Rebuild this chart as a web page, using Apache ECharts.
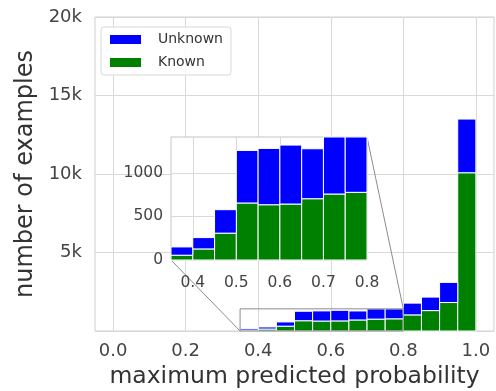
<!DOCTYPE html>
<html><head><meta charset="utf-8">
<script src="https://cdn.jsdelivr.net/npm/echarts@6/dist/echarts.min.js"></script>
<style>html,body{margin:0;padding:0;background:#fff}#c{width:496px;height:391px}</style>
</head><body><div id="c"></div>
<script>
// ---- data ----
const binStarts = [0.35, 0.40, 0.45, 0.50, 0.55, 0.60, 0.65, 0.70, 0.75, 0.80, 0.85, 0.90, 0.95];
const binWidth = 0.05;
const known   = [55, 127, 308, 654, 634, 642, 703, 757, 776, 1026, 1300, 1814, 10080];
const unknown = [95, 130, 269, 603, 646, 676, 573, 654, 635, 750, 860, 1282, 3420];
const mainXTicks = [0.0, 0.2, 0.4, 0.6, 0.8, 1.0];
const mainYMax = 20000;
const mainYStep = 5000;
const insetRange = [0.35, 0.8];
const insetXTicks = [0.4, 0.5, 0.6, 0.7, 0.8];
const insetYTicks = [0, 500, 1000];

// ---- derived ----
const xPad = 0.05;
const knownRows = binStarts.map((s, i) => [s, s + binWidth, 0, known[i]]);
const unknownRows = binStarts.map((s, i) => [s, s + binWidth, known[i], known[i] + unknown[i]]);
const inRange = r => r[0] >= insetRange[0] - 1e-9 && r[1] <= insetRange[1] + 1e-9;
const insetYMax = Math.max(...unknownRows.filter(inRange).map(r => r[3]));

const FONT = 'DejaVu Sans';
const TICK = '#444';
const GRIDC = '#d9d9d9';

function rectItem(params, api) {
  const p0 = api.coord([api.value(0), api.value(2)]);
  const p1 = api.coord([api.value(1), api.value(3)]);
  const cs = params.coordSys;
  const shape = echarts.graphic.clipRectByRect(
    {x: p0[0], y: p1[1], width: p1[0] - p0[0], height: p0[1] - p1[1]},
    {x: cs.x, y: cs.y, width: cs.width, height: cs.height});
  if (!shape) return null;
  return {type: 'rect', shape: shape, style: {fill: api.visual('color'), stroke: '#fff', lineWidth: 1}};
}

const chart = echarts.init(document.getElementById('c'), null, {renderer: 'canvas'});
const option = {
  animation: false,
  backgroundColor: '#fff',
  textStyle: {fontFamily: FONT},
  grid: [
    {left: 95, top: 17, width: 399, height: 314, show: true, borderColor: '#cfcfcf', borderWidth: 1,
     backgroundColor: '#fff', containLabel: false, outerBoundsMode: 'none'},
    {left: 171, top: 137, width: 196, height: 123, show: true, borderColor: '#c4c4c4', borderWidth: 1,
     backgroundColor: '#fff', z: 10, containLabel: false, outerBoundsMode: 'none'}
  ],
  legend: {
    orient: 'vertical', left: 101, top: 27,
    data: ['Unknown', 'Known'],
    icon: 'rect', itemWidth: 31, itemHeight: 9, itemGap: 8,
    padding: [5, 8, 5, 9],
    backgroundColor: 'rgba(255,255,255,0.85)', borderColor: '#d8d8d8', borderWidth: 1, borderRadius: 3,
    textStyle: {fontFamily: FONT, fontSize: 14, color: '#333', lineHeight: 15, padding: [0, 0, 0, 12]}
  },
  xAxis: [
    {type: 'value', gridIndex: 0, min: mainXTicks[0] - xPad, max: mainXTicks[mainXTicks.length - 1] + xPad,
     name: 'maximum predicted probability', nameLocation: 'middle', nameGap: 33,
     nameTextStyle: {fontFamily: FONT, fontSize: 23.5, color: '#333'},
     axisLine: {show: false}, axisTick: {show: false, customValues: mainXTicks},
     axisLabel: {customValues: mainXTicks, formatter: v => v.toFixed(1), fontFamily: FONT, fontSize: 18, color: TICK, margin: 11},
     splitLine: {show: true, lineStyle: {color: GRIDC, width: 1}}},
    {type: 'value', gridIndex: 1, min: insetRange[0], max: insetRange[1], z: 11,
     axisLine: {show: false}, axisTick: {show: false, customValues: insetXTicks},
     axisLabel: {customValues: insetXTicks, formatter: v => v.toFixed(1), fontFamily: FONT, fontSize: 15.5, color: TICK, margin: 15},
     splitLine: {show: true, lineStyle: {color: GRIDC, width: 1}}}
  ],
  yAxis: [
    {type: 'value', gridIndex: 0, min: 0, max: mainYMax, interval: mainYStep,
     name: 'number of examples', nameLocation: 'middle', nameGap: 52,
     nameTextStyle: {fontFamily: FONT, fontSize: 24, color: '#333'},
     axisLine: {show: false}, axisTick: {show: false},
     axisLabel: {formatter: v => v === 0 ? '' : (v / 1000) + 'k', fontFamily: FONT, fontSize: 18, color: TICK, margin: 13},
     splitLine: {show: true, lineStyle: {color: GRIDC, width: 1}}},
    {type: 'value', gridIndex: 1, min: 0, max: insetYMax, z: 11,
     axisLine: {show: false}, axisTick: {show: false, customValues: insetYTicks},
     axisLabel: {customValues: insetYTicks, formatter: v => String(v), fontFamily: FONT, fontSize: 15.5, color: TICK, margin: 8},
     splitLine: {show: true, lineStyle: {color: GRIDC, width: 1}}}
  ],
  series: [
    {name: 'Known', type: 'custom', xAxisIndex: 0, yAxisIndex: 0, renderItem: rectItem,
     itemStyle: {color: '#008000'}, encode: {x: [0, 1], y: [2, 3]}, data: knownRows, z: 2},
    {name: 'Unknown', type: 'custom', xAxisIndex: 0, yAxisIndex: 0, renderItem: rectItem,
     itemStyle: {color: '#0000ff'}, encode: {x: [0, 1], y: [2, 3]}, data: unknownRows, z: 2},
    {name: 'Known', type: 'custom', xAxisIndex: 1, yAxisIndex: 1, renderItem: rectItem,
     itemStyle: {color: '#008000'}, encode: {x: [0, 1], y: [2, 3]}, data: knownRows.filter(inRange), z: 12},
    {name: 'Unknown', type: 'custom', xAxisIndex: 1, yAxisIndex: 1, renderItem: rectItem,
     itemStyle: {color: '#0000ff'}, encode: {x: [0, 1], y: [2, 3]}, data: unknownRows.filter(inRange), z: 12},
    {name: 'zoomRect', type: 'custom', xAxisIndex: 0, yAxisIndex: 0, z: 3, silent: true,
     data: [[insetRange[0], insetRange[1], 0, insetYMax]],
     renderItem: function (params, api) {
       const p0 = api.coord([api.value(0), api.value(2)]);
       const p1 = api.coord([api.value(1), api.value(3)]);
       return {type: 'rect', shape: {x: p0[0], y: p1[1], width: p1[0] - p0[0], height: p0[1] - p1[1]},
               style: {fill: 'none', stroke: '#8c8c8c', lineWidth: 1}};
     }}
  ]
};
chart.setOption(option);

const cp = (g, pt) => chart.convertToPixel({gridIndex: g}, pt);
const iBL = cp(1, [insetRange[0], 0]);
const iTR = cp(1, [insetRange[1], insetYMax]);
const rBL = cp(0, [insetRange[0], 0]);
const rTR = cp(0, [insetRange[1], insetYMax]);
chart.setOption({
  graphic: [
    {type: 'line', z: 4, shape: {x1: iBL[0], y1: iBL[1], x2: rBL[0], y2: rBL[1]}, style: {stroke: '#8c8c8c', lineWidth: 1}},
    {type: 'line', z: 4, shape: {x1: iTR[0], y1: iTR[1], x2: rTR[0], y2: rTR[1]}, style: {stroke: '#8c8c8c', lineWidth: 1}}
  ]
});
</script>
</body></html>
